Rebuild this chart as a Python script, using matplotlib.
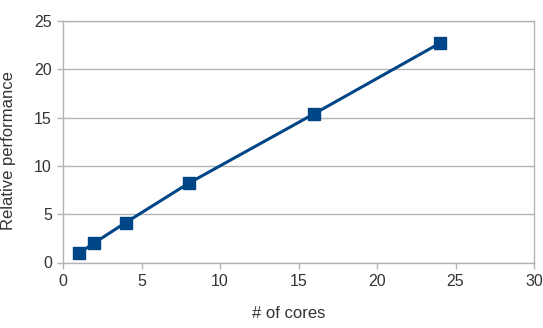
import matplotlib
matplotlib.use("Agg")
import matplotlib.pyplot as plt

cores = [1, 2, 4, 8, 16, 24]
perf = [0.95, 2.03, 4.14, 8.2, 15.4, 22.7]
x_ticks = [0, 5, 10, 15, 20, 25, 30]
y_ticks = [0, 5, 10, 15, 20, 25]

plt.rcParams['font.family'] = ['Liberation Sans', 'DejaVu Sans']
fig = plt.figure(figsize=(5.43, 3.28), dpi=100)
L, R, T, B = 63, 534, 21, 262.5
ax = fig.add_axes([L/543, 1 - B/328, (R-L)/543, (B-T)/328])

ax.plot(cores, perf, color='#004586', linewidth=2.2, marker='s', markersize=8, zorder=3)
ax.set_xlim(0, 30)
ax.set_ylim(0, 25)
ax.set_xticks(x_ticks)
ax.set_yticks(y_ticks)
ax.grid(axis='y', color='#b3b3b3', linewidth=1)
ax.set_axisbelow(True)
for s in ax.spines.values():
    s.set_color('#b3b3b3')
    s.set_linewidth(1)
ax.tick_params(colors='#b3b3b3', labelcolor='#333333', labelsize=11.5, length=4, width=1, pad=4)
ax.set_xlabel('# of cores', fontsize=12, color='#333333')
ax.set_ylabel('Relative performance', fontsize=12, color='#333333')
ax.xaxis.label.set_va('center')
ax.yaxis.label.set_va('center')
ax.xaxis.set_label_coords((289 - L) / (R - L), (B - 314) / (B - T))
ax.yaxis.set_label_coords((8.5 - L) / (R - L), (B - 151) / (B - T))

fig.savefig('out.png', dpi=100)
